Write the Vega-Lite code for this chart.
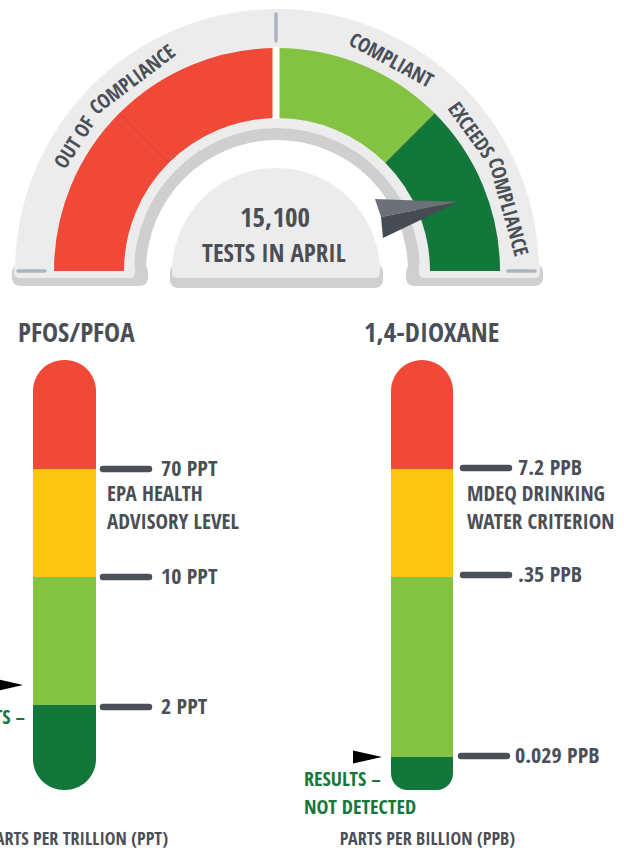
{
  "$schema": "https://vega.github.io/schema/vega-lite/v6.json",
  "width": 624,
  "height": 852,
  "padding": 0,
  "autosize": "none",
  "background": "#ffffff",
  "config": {
    "view": {"stroke": null},
    "text": {"font": "Open Sans Condensed", "fontWeight": "bold", "color": "#4a4f57", "baseline": "middle"}
  },
  "datasets": {
    "gaugeZones": [
      {"zone": "Out of compliance", "share": 25, "seq": 1},
      {"zone": "Out of compliance", "share": 25, "seq": 2},
      {"zone": "Compliant", "share": 25, "seq": 3},
      {"zone": "Exceeds compliance", "share": 25, "seq": 4}
    ],
    "gaugeLabels": [
      {"label": "OUT OF", "pos": 18.0, "rot": -57.6},
      {"label": "COMPLIANCE", "pos": 29.4, "rot": -37.1},
      {"label": "COMPLIANT", "pos": 65.8, "rot": 28.5},
      {"label": "EXCEEDS", "pos": 80.0, "rot": 54.0},
      {"label": "COMPLIANCE", "pos": 91.4, "rot": 74.5}
    ],
    "segments": [
      {"substance": "PFOS/PFOA", "zone": "Above advisory", "part": "top", "left": 33, "right": 96, "top": 360, "bottom": 469},
      {"substance": "PFOS/PFOA", "zone": "Between thresholds", "part": "middle", "left": 33, "right": 96, "top": 469, "bottom": 577},
      {"substance": "PFOS/PFOA", "zone": "Below threshold", "part": "middle", "left": 33, "right": 96, "top": 577, "bottom": 705},
      {"substance": "PFOS/PFOA", "zone": "Lowest band", "part": "bottom", "left": 33, "right": 96, "top": 705, "bottom": 790},
      {"substance": "1,4-DIOXANE", "zone": "Above advisory", "part": "top", "left": 391, "right": 453, "top": 360, "bottom": 469},
      {"substance": "1,4-DIOXANE", "zone": "Between thresholds", "part": "middle", "left": 391, "right": 453, "top": 469, "bottom": 577},
      {"substance": "1,4-DIOXANE", "zone": "Below threshold", "part": "middle", "left": 391, "right": 453, "top": 577, "bottom": 757},
      {"substance": "1,4-DIOXANE", "zone": "Lowest band", "part": "bottom", "left": 391, "right": 453, "top": 757, "bottom": 790}
    ],
    "thresholds": [
      {"substance": "PFOS/PFOA", "value": "70 PPT", "level": 469, "tick": 103, "tick2": 149, "labelX": 161},
      {"substance": "PFOS/PFOA", "value": "10 PPT", "level": 577, "tick": 103, "tick2": 149, "labelX": 161},
      {"substance": "PFOS/PFOA", "value": "2 PPT", "level": 707, "tick": 103, "tick2": 149, "labelX": 161},
      {"substance": "1,4-DIOXANE", "value": "7.2 PPB", "level": 468, "tick": 463, "tick2": 509, "labelX": 518},
      {"substance": "1,4-DIOXANE", "value": ".35 PPB", "level": 575, "tick": 463, "tick2": 509, "labelX": 518},
      {"substance": "1,4-DIOXANE", "value": "0.029 PPB", "level": 756, "tick": 461, "tick2": 507, "labelX": 515}
    ],
    "notes": [
      {"substance": "PFOS/PFOA", "text": "EPA HEALTH", "nx": 107, "ny": 495},
      {"substance": "PFOS/PFOA", "text": "ADVISORY LEVEL", "nx": 107, "ny": 523},
      {"substance": "1,4-DIOXANE", "text": "MDEQ DRINKING", "nx": 467, "ny": 495},
      {"substance": "1,4-DIOXANE", "text": "WATER CRITERION", "nx": 467, "ny": 523}
    ],
    "panels": [
      {"substance": "PFOS/PFOA", "titleX": 18, "unit": "PARTS PER TRILLION (PPT)", "unitX": 168, "arrowX": 8.5, "arrowY": 685},
      {"substance": "1,4-DIOXANE", "titleX": 364, "unit": "PARTS PER BILLION (PPB)", "unitX": 515, "arrowX": 367.5, "arrowY": 757}
    ],
    "results": [
      {"substance": "PFOS/PFOA", "text": "RESULTS –", "rx": 25, "ry": 718, "side": "right"},
      {"substance": "1,4-DIOXANE", "text": "RESULTS –", "rx": 304, "ry": 780, "side": "left"},
      {"substance": "1,4-DIOXANE", "text": "NOT DETECTED", "rx": 304, "ry": 808, "side": "left"}
    ]
  },
  "layer": [
    {
      "data": {"values": [{}]},
      "mark": {"type": "rect", "color": "#d0d0d0", "cornerRadius": 8},
      "encoding": {
        "x": {"datum": 12, "type": "quantitative", "scale": {"domain": [0, 624], "nice": false, "zero": false}, "axis": null},
        "x2": {"datum": 148},
        "y": {"datum": 264, "type": "quantitative", "scale": {"domain": [0, 852], "nice": false, "zero": false, "reverse": true}, "axis": null},
        "y2": {"datum": 286}
      }
    },
    {
      "data": {"values": [{}]},
      "mark": {"type": "rect", "color": "#d0d0d0", "cornerRadius": 8},
      "encoding": {
        "x": {"datum": 406, "type": "quantitative", "scale": {"domain": [0, 624], "nice": false, "zero": false}, "axis": null},
        "x2": {"datum": 543},
        "y": {"datum": 264, "type": "quantitative", "scale": {"domain": [0, 852], "nice": false, "zero": false, "reverse": true}, "axis": null},
        "y2": {"datum": 286}
      }
    },
    {
      "data": {"values": [{}]},
      "mark": {"type": "rect", "color": "#d0d0d0", "cornerRadius": 8},
      "encoding": {
        "x": {"datum": 170, "type": "quantitative", "scale": {"domain": [0, 624], "nice": false, "zero": false}, "axis": null},
        "x2": {"datum": 383},
        "y": {"datum": 264, "type": "quantitative", "scale": {"domain": [0, 852], "nice": false, "zero": false, "reverse": true}, "axis": null},
        "y2": {"datum": 288}
      }
    },
    {
      "data": {"values": [{}]},
      "mark": {"type": "arc", "color": "#ececec", "radius": 262, "radius2": 143, "theta": -1.5708, "theta2": 1.5708},
      "encoding": {
        "x": {"datum": 277, "type": "quantitative", "scale": {"domain": [0, 624], "nice": false, "zero": false}, "axis": null},
        "y": {"datum": 271, "type": "quantitative", "scale": {"domain": [0, 852], "nice": false, "zero": false, "reverse": true}, "axis": null}
      }
    },
    {
      "data": {"values": [{}]},
      "mark": {"type": "arc", "color": "#cfcfcf", "radius": 143, "radius2": 131, "theta": -1.5708, "theta2": 1.5708},
      "encoding": {
        "x": {"datum": 277, "type": "quantitative", "scale": {"domain": [0, 624], "nice": false, "zero": false}, "axis": null},
        "y": {"datum": 271, "type": "quantitative", "scale": {"domain": [0, 852], "nice": false, "zero": false, "reverse": true}, "axis": null}
      }
    },
    {
      "data": {"values": [{}]},
      "mark": {"type": "rect", "color": "#ececec", "cornerRadius": 5},
      "encoding": {
        "x": {"datum": 14, "type": "quantitative", "scale": {"domain": [0, 624], "nice": false, "zero": false}, "axis": null},
        "x2": {"datum": 135},
        "y": {"datum": 262, "type": "quantitative", "scale": {"domain": [0, 852], "nice": false, "zero": false, "reverse": true}, "axis": null},
        "y2": {"datum": 278}
      }
    },
    {
      "data": {"values": [{}]},
      "mark": {"type": "rect", "color": "#ececec", "cornerRadius": 5},
      "encoding": {
        "x": {"datum": 419, "type": "quantitative", "scale": {"domain": [0, 624], "nice": false, "zero": false}, "axis": null},
        "x2": {"datum": 540},
        "y": {"datum": 262, "type": "quantitative", "scale": {"domain": [0, 852], "nice": false, "zero": false, "reverse": true}, "axis": null},
        "y2": {"datum": 278}
      }
    },
    {
      "data": {"values": [{}]},
      "mark": {"type": "arc", "color": "#ececec", "radius": 104, "radius2": 0, "theta": -1.5708, "theta2": 1.5708},
      "encoding": {
        "x": {"datum": 276, "type": "quantitative", "scale": {"domain": [0, 624], "nice": false, "zero": false}, "axis": null},
        "y": {"datum": 272, "type": "quantitative", "scale": {"domain": [0, 852], "nice": false, "zero": false, "reverse": true}, "axis": null}
      }
    },
    {
      "data": {"values": [{}]},
      "mark": {"type": "rect", "color": "#ececec", "cornerRadius": 5},
      "encoding": {
        "x": {"datum": 172, "type": "quantitative", "scale": {"domain": [0, 624], "nice": false, "zero": false}, "axis": null},
        "x2": {"datum": 380},
        "y": {"datum": 262, "type": "quantitative", "scale": {"domain": [0, 852], "nice": false, "zero": false, "reverse": true}, "axis": null},
        "y2": {"datum": 278}
      }
    },
    {
      "data": {"name": "gaugeZones"},
      "mark": {"type": "arc", "radius": 223, "radius2": 153},
      "encoding": {
        "x": {"datum": 277, "type": "quantitative", "scale": {"domain": [0, 624], "nice": false, "zero": false}, "axis": null},
        "y": {"datum": 271, "type": "quantitative", "scale": {"domain": [0, 852], "nice": false, "zero": false, "reverse": true}, "axis": null},
        "theta": {"field": "share", "type": "quantitative", "stack": true, "scale": {"domain": [0, 100], "range": [-1.5708, 1.5708]}},
        "order": {"field": "seq", "type": "quantitative"},
        "color": {"field": "zone", "type": "nominal", "legend": null,
          "scale": {"domain": ["Out of compliance", "Compliant", "Exceeds compliance", "Above advisory", "Between thresholds", "Below threshold", "Lowest band"],
                    "range": ["#f04937", "#84c341", "#13763a", "#f04937", "#fcc511", "#84c341", "#13763a"]}}
      }
    },
    {
      "data": {"values": [{}]},
      "mark": {"type": "rule", "color": "#ffffff", "strokeWidth": 7},
      "encoding": {
        "x": {"datum": 276, "type": "quantitative", "scale": {"domain": [0, 624], "nice": false, "zero": false}, "axis": null},
        "y": {"datum": 47, "type": "quantitative", "scale": {"domain": [0, 852], "nice": false, "zero": false, "reverse": true}, "axis": null},
        "y2": {"datum": 119}
      }
    },
    {
      "data": {"values": [{}]},
      "mark": {"type": "rule", "color": "#d43f2e", "strokeWidth": 1},
      "encoding": {
        "x": {"datum": 168.8, "type": "quantitative", "scale": {"domain": [0, 624], "nice": false, "zero": false}, "axis": null},
        "x2": {"datum": 119.3},
        "y": {"datum": 162.8, "type": "quantitative", "scale": {"domain": [0, 852], "nice": false, "zero": false, "reverse": true}, "axis": null},
        "y2": {"datum": 113.3}
      }
    },
    {
      "data": {"values": [{}]},
      "mark": {"type": "rule", "color": "#aab4be", "strokeWidth": 3.5, "strokeCap": "round"},
      "encoding": {
        "x": {"datum": 276, "type": "quantitative", "scale": {"domain": [0, 624], "nice": false, "zero": false}, "axis": null},
        "y": {"datum": 14, "type": "quantitative", "scale": {"domain": [0, 852], "nice": false, "zero": false, "reverse": true}, "axis": null},
        "y2": {"datum": 41}
      }
    },
    {
      "data": {"values": [{}]},
      "mark": {"type": "rule", "color": "#aab4be", "strokeWidth": 3.5, "strokeCap": "round"},
      "encoding": {
        "x": {"datum": 18, "type": "quantitative", "scale": {"domain": [0, 624], "nice": false, "zero": false}, "axis": null},
        "x2": {"datum": 45},
        "y": {"datum": 271, "type": "quantitative", "scale": {"domain": [0, 852], "nice": false, "zero": false, "reverse": true}, "axis": null}
      }
    },
    {
      "data": {"values": [{}]},
      "mark": {"type": "rule", "color": "#aab4be", "strokeWidth": 3.5, "strokeCap": "round"},
      "encoding": {
        "x": {"datum": 508, "type": "quantitative", "scale": {"domain": [0, 624], "nice": false, "zero": false}, "axis": null},
        "x2": {"datum": 535},
        "y": {"datum": 271, "type": "quantitative", "scale": {"domain": [0, 852], "nice": false, "zero": false, "reverse": true}, "axis": null}
      }
    },
    {
      "data": {"name": "gaugeLabels"},
      "mark": {"type": "text", "radius": 239, "fontSize": 20, "align": "center"},
      "encoding": {
        "x": {"datum": 277, "type": "quantitative", "scale": {"domain": [0, 624], "nice": false, "zero": false}, "axis": null},
        "y": {"datum": 271, "type": "quantitative", "scale": {"domain": [0, 852], "nice": false, "zero": false, "reverse": true}, "axis": null},
        "theta": {"field": "pos", "type": "quantitative", "stack": null, "scale": {"domain": [0, 100], "range": [-1.5708, 1.5708]}},
        "angle": {"field": "rot", "type": "quantitative", "scale": null},
        "text": {"field": "label"}
      }
    },
    {
      "data": {"values": [{"line": "15,100"}]},
      "mark": {"type": "text", "fontSize": 27, "align": "center"},
      "encoding": {
        "x": {"datum": 275, "type": "quantitative", "scale": {"domain": [0, 624], "nice": false, "zero": false}, "axis": null},
        "y": {"datum": 219, "type": "quantitative", "scale": {"domain": [0, 852], "nice": false, "zero": false, "reverse": true}, "axis": null},
        "text": {"field": "line"}
      }
    },
    {
      "data": {"values": [{"line": "TESTS IN APRIL"}]},
      "mark": {"type": "text", "fontSize": 25, "align": "center"},
      "encoding": {
        "x": {"datum": 274, "type": "quantitative", "scale": {"domain": [0, 624], "nice": false, "zero": false}, "axis": null},
        "y": {"datum": 254, "type": "quantitative", "scale": {"domain": [0, 852], "nice": false, "zero": false, "reverse": true}, "axis": null},
        "text": {"field": "line"}
      }
    },
    {
      "data": {"values": [{}]},
      "mark": {"type": "point", "shape": "M-1,-0.47L1,-0.398L-0.855,-0.036Z", "size": 6889, "filled": true, "color": "#6b7079", "opacity": 1, "strokeWidth": 0},
      "encoding": {
        "x": {"datum": 416.5, "type": "quantitative", "scale": {"domain": [0, 624], "nice": false, "zero": false}, "axis": null},
        "y": {"datum": 218.5, "type": "quantitative", "scale": {"domain": [0, 852], "nice": false, "zero": false, "reverse": true}, "axis": null}
      }
    },
    {
      "data": {"values": [{}]},
      "mark": {"type": "point", "shape": "M-0.855,-0.036L1,-0.398L-0.807,0.47Z", "size": 6889, "filled": true, "color": "#464b53", "opacity": 1, "strokeWidth": 0},
      "encoding": {
        "x": {"datum": 416.5, "type": "quantitative", "scale": {"domain": [0, 624], "nice": false, "zero": false}, "axis": null},
        "y": {"datum": 218.5, "type": "quantitative", "scale": {"domain": [0, 852], "nice": false, "zero": false, "reverse": true}, "axis": null}
      }
    },
    {
      "data": {"name": "segments"},
      "transform": [{"filter": "datum.part === 'middle'"}],
      "mark": {"type": "rect"},
      "encoding": {
        "x": {"field": "left", "type": "quantitative", "scale": {"domain": [0, 624], "nice": false, "zero": false}, "axis": null},
        "x2": {"field": "right"},
        "y": {"field": "top", "type": "quantitative", "scale": {"domain": [0, 852], "nice": false, "zero": false, "reverse": true}, "axis": null},
        "y2": {"field": "bottom"},
        "color": {"field": "zone", "type": "nominal", "legend": null,
          "scale": {"domain": ["Out of compliance", "Compliant", "Exceeds compliance", "Above advisory", "Between thresholds", "Below threshold", "Lowest band"],
                    "range": ["#f04937", "#84c341", "#13763a", "#f04937", "#fcc511", "#84c341", "#13763a"]}}
      }
    },
    {
      "data": {"name": "segments"},
      "transform": [{"filter": "datum.part === 'top'"}],
      "mark": {"type": "rect", "cornerRadiusTopLeft": 31, "cornerRadiusTopRight": 31},
      "encoding": {
        "x": {"field": "left", "type": "quantitative", "scale": {"domain": [0, 624], "nice": false, "zero": false}, "axis": null},
        "x2": {"field": "right"},
        "y": {"field": "top", "type": "quantitative", "scale": {"domain": [0, 852], "nice": false, "zero": false, "reverse": true}, "axis": null},
        "y2": {"field": "bottom"},
        "color": {"field": "zone", "type": "nominal", "legend": null,
          "scale": {"domain": ["Out of compliance", "Compliant", "Exceeds compliance", "Above advisory", "Between thresholds", "Below threshold", "Lowest band"],
                    "range": ["#f04937", "#84c341", "#13763a", "#f04937", "#fcc511", "#84c341", "#13763a"]}}
      }
    },
    {
      "data": {"name": "segments"},
      "transform": [{"filter": "datum.part === 'bottom'"}],
      "mark": {"type": "rect", "cornerRadiusBottomLeft": 31, "cornerRadiusBottomRight": 31},
      "encoding": {
        "x": {"field": "left", "type": "quantitative", "scale": {"domain": [0, 624], "nice": false, "zero": false}, "axis": null},
        "x2": {"field": "right"},
        "y": {"field": "top", "type": "quantitative", "scale": {"domain": [0, 852], "nice": false, "zero": false, "reverse": true}, "axis": null},
        "y2": {"field": "bottom"},
        "color": {"field": "zone", "type": "nominal", "legend": null,
          "scale": {"domain": ["Out of compliance", "Compliant", "Exceeds compliance", "Above advisory", "Between thresholds", "Below threshold", "Lowest band"],
                    "range": ["#f04937", "#84c341", "#13763a", "#f04937", "#fcc511", "#84c341", "#13763a"]}}
      }
    },
    {
      "data": {"name": "thresholds"},
      "mark": {"type": "rule", "color": "#4b5058", "strokeWidth": 6.5, "strokeCap": "round"},
      "encoding": {
        "x": {"field": "tick", "type": "quantitative", "scale": {"domain": [0, 624], "nice": false, "zero": false}, "axis": null},
        "x2": {"field": "tick2"},
        "y": {"field": "level", "type": "quantitative", "scale": {"domain": [0, 852], "nice": false, "zero": false, "reverse": true}, "axis": null}
      }
    },
    {
      "data": {"name": "thresholds"},
      "mark": {"type": "text", "fontSize": 22, "align": "left"},
      "encoding": {
        "x": {"field": "labelX", "type": "quantitative", "scale": {"domain": [0, 624], "nice": false, "zero": false}, "axis": null},
        "y": {"field": "level", "type": "quantitative", "scale": {"domain": [0, 852], "nice": false, "zero": false, "reverse": true}, "axis": null},
        "text": {"field": "value"}
      }
    },
    {
      "data": {"name": "notes"},
      "mark": {"type": "text", "fontSize": 21, "align": "left"},
      "encoding": {
        "x": {"field": "nx", "type": "quantitative", "scale": {"domain": [0, 624], "nice": false, "zero": false}, "axis": null},
        "y": {"field": "ny", "type": "quantitative", "scale": {"domain": [0, 852], "nice": false, "zero": false, "reverse": true}, "axis": null},
        "text": {"field": "text"}
      }
    },
    {
      "data": {"name": "panels"},
      "mark": {"type": "text", "fontSize": 27, "align": "left"},
      "encoding": {
        "x": {"field": "titleX", "type": "quantitative", "scale": {"domain": [0, 624], "nice": false, "zero": false}, "axis": null},
        "y": {"datum": 334, "type": "quantitative", "scale": {"domain": [0, 852], "nice": false, "zero": false, "reverse": true}, "axis": null},
        "text": {"field": "substance"}
      }
    },
    {
      "data": {"name": "panels"},
      "mark": {"type": "text", "fontSize": 18, "align": "right"},
      "encoding": {
        "x": {"field": "unitX", "type": "quantitative", "scale": {"domain": [0, 624], "nice": false, "zero": false}, "axis": null},
        "y": {"datum": 840, "type": "quantitative", "scale": {"domain": [0, 852], "nice": false, "zero": false, "reverse": true}, "axis": null},
        "text": {"field": "unit"}
      }
    },
    {
      "data": {"name": "panels"},
      "mark": {"type": "point", "shape": "M-1,-0.45L1,0L-1,0.45Z", "size": 841, "filled": true, "color": "#000000", "opacity": 1, "strokeWidth": 0},
      "encoding": {
        "x": {"field": "arrowX", "type": "quantitative", "scale": {"domain": [0, 624], "nice": false, "zero": false}, "axis": null},
        "y": {"field": "arrowY", "type": "quantitative", "scale": {"domain": [0, 852], "nice": false, "zero": false, "reverse": true}, "axis": null}
      }
    },
    {
      "data": {"name": "results"},
      "transform": [{"filter": "datum.side === 'right'"}],
      "mark": {"type": "text", "fontSize": 20, "align": "right", "color": "#17773b"},
      "encoding": {
        "x": {"field": "rx", "type": "quantitative", "scale": {"domain": [0, 624], "nice": false, "zero": false}, "axis": null},
        "y": {"field": "ry", "type": "quantitative", "scale": {"domain": [0, 852], "nice": false, "zero": false, "reverse": true}, "axis": null},
        "text": {"field": "text"}
      }
    },
    {
      "data": {"name": "results"},
      "transform": [{"filter": "datum.side === 'left'"}],
      "mark": {"type": "text", "fontSize": 20, "align": "left", "color": "#17773b"},
      "encoding": {
        "x": {"field": "rx", "type": "quantitative", "scale": {"domain": [0, 624], "nice": false, "zero": false}, "axis": null},
        "y": {"field": "ry", "type": "quantitative", "scale": {"domain": [0, 852], "nice": false, "zero": false, "reverse": true}, "axis": null},
        "text": {"field": "text"}
      }
    }
  ]
}
